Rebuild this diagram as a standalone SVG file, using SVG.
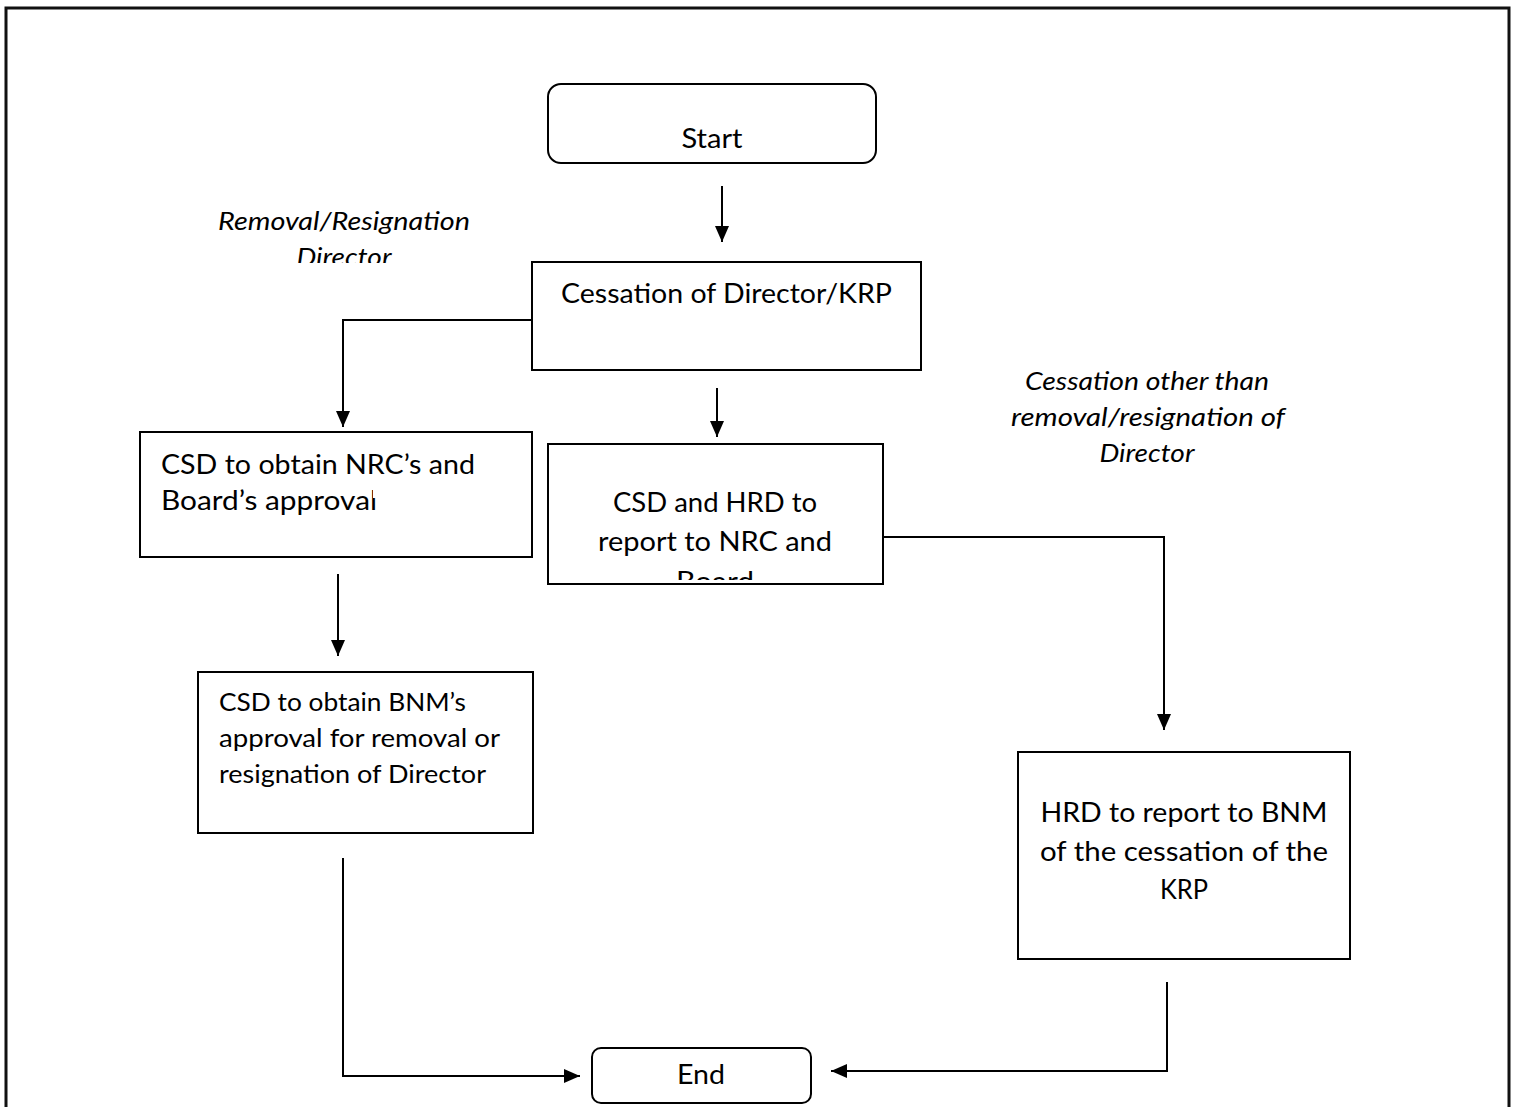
<svg xmlns="http://www.w3.org/2000/svg" width="1513" height="1107" viewBox="0 0 1513 1107">
<style>
.box{fill:#fff;stroke:#000;stroke-width:2}
.t{font-family:Lato,"Liberation Sans",sans-serif;font-size:27px;fill:#000}
.s{font-size:25px}
.i{font-family:Lato,"Liberation Sans",sans-serif;font-style:italic;font-size:25px;fill:#000}
.c{text-anchor:middle}
.ln{fill:none;stroke:#000;stroke-width:2}
</style>
<defs>
<marker id="a" viewBox="0 0 16 14" refX="16" refY="7" markerWidth="16" markerHeight="14" markerUnits="userSpaceOnUse" orient="auto">
<path d="M0,0 L16,7 L0,14 Z" fill="#000"/>
</marker>
<clipPath id="clipL"><rect x="150" y="190" width="400" height="73"/></clipPath>
<clipPath id="clipB"><rect x="549" y="445" width="333" height="135"/></clipPath>
<clipPath id="clipA"><path d="M141,433 H531 V489 H373 V498 H531 V556 H141 Z"/></clipPath>
</defs>
<rect x="6" y="8" width="1503" height="1110" fill="none" stroke="#111" stroke-width="3"/>
<g id="connectors">
<line class="ln" x1="722" y1="186" x2="722" y2="242" marker-end="url(#a)"/>
<polyline class="ln" points="532,320 343,320 343,427" marker-end="url(#a)"/>
<line class="ln" x1="717" y1="388" x2="717" y2="437" marker-end="url(#a)"/>
<line class="ln" x1="338" y1="574" x2="338" y2="656" marker-end="url(#a)"/>
<polyline class="ln" points="883,537 1164,537 1164,730" marker-end="url(#a)"/>
<polyline class="ln" points="343,858 343,1076 580,1076" marker-end="url(#a)"/>
<polyline class="ln" points="1167,982 1167,1071 831,1071" marker-end="url(#a)"/>
</g>
<g id="start">
<rect class="box" x="548" y="84" width="328" height="79" rx="13"/>
<text class="t c" x="712" y="148" textLength="61" lengthAdjust="spacingAndGlyphs">Start</text>
</g>
<g id="label-removal" clip-path="url(#clipL)">
<text class="i c" x="344" y="230" textLength="252" lengthAdjust="spacingAndGlyphs">Removal/Resignation</text>
<text class="i c" x="344" y="266" textLength="95" lengthAdjust="spacingAndGlyphs">Director</text>
</g>
<g id="cessation">
<rect class="box" x="532" y="262" width="389" height="108"/>
<text class="t" x="561" y="303" textLength="331" lengthAdjust="spacingAndGlyphs">Cessation of Director/KRP</text>
</g>
<g id="csd-nrc">
<rect class="box" x="140" y="432" width="392" height="125"/>
<g clip-path="url(#clipA)">
<text class="t" x="161" y="474" textLength="314" lengthAdjust="spacingAndGlyphs">CSD to obtain NRC’s and</text>
<text class="t" x="161" y="510" textLength="216" lengthAdjust="spacingAndGlyphs">Board’s approval</text>
</g>
</g>
<g id="csd-hrd">
<rect class="box" x="548" y="444" width="335" height="140"/>
<g clip-path="url(#clipB)">
<text class="t c" x="715" y="512" textLength="204" lengthAdjust="spacingAndGlyphs">CSD and HRD to</text>
<text class="t c" x="715" y="551" textLength="234" lengthAdjust="spacingAndGlyphs">report to NRC and</text>
<text class="t c" x="715" y="591" textLength="78" lengthAdjust="spacingAndGlyphs">Board</text>
</g>
</g>
<g id="label-other">
<text class="i c" x="1147" y="390" textLength="244" lengthAdjust="spacingAndGlyphs">Cessation other than</text>
<text class="i c" x="1148" y="426" textLength="274" lengthAdjust="spacingAndGlyphs">removal/resignation of</text>
<text class="i c" x="1147" y="462" textLength="95" lengthAdjust="spacingAndGlyphs">Director</text>
</g>
<g id="csd-bnm">
<rect class="box" x="198" y="672" width="335" height="161"/>
<text class="t s" x="219" y="711" textLength="247" lengthAdjust="spacingAndGlyphs">CSD to obtain BNM’s</text>
<text class="t s" x="219" y="747" textLength="281" lengthAdjust="spacingAndGlyphs">approval for removal or</text>
<text class="t s" x="219" y="783" textLength="267" lengthAdjust="spacingAndGlyphs">resignation of Director</text>
</g>
<g id="hrd-bnm">
<rect class="box" x="1018" y="752" width="332" height="207"/>
<text class="t c" x="1184" y="822" textLength="287" lengthAdjust="spacingAndGlyphs">HRD to report to BNM</text>
<text class="t c" x="1184" y="861" textLength="288" lengthAdjust="spacingAndGlyphs">of the cessation of the</text>
<text class="t c" x="1184" y="899" textLength="48" lengthAdjust="spacingAndGlyphs">KRP</text>
</g>
<g id="end">
<rect class="box" x="592" y="1048" width="219" height="55" rx="9"/>
<text class="t c" x="701" y="1084" textLength="48" lengthAdjust="spacingAndGlyphs">End</text>
</g>
</svg>
